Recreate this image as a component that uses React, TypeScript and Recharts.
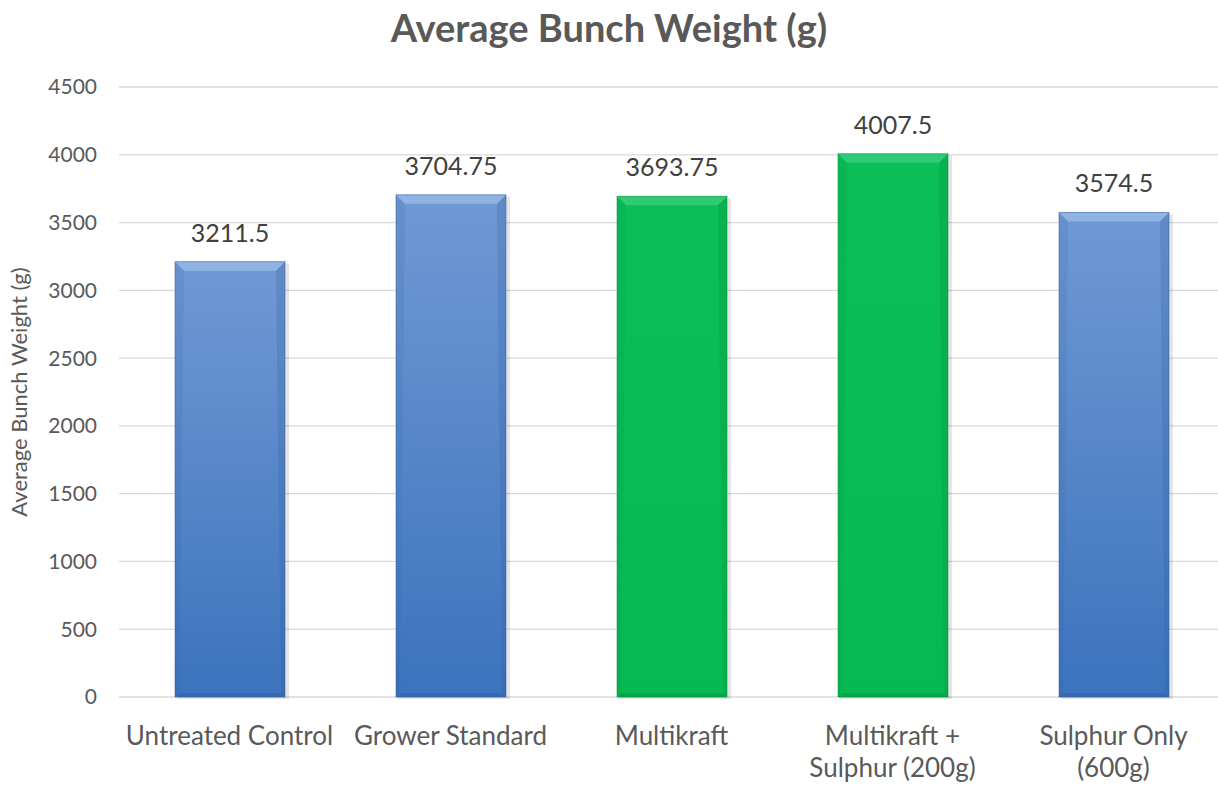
import React from 'react';
import { BarChart, Bar, XAxis, YAxis, CartesianGrid, LabelList } from 'recharts';

const categories = [
  'Untreated Control',
  'Grower Standard',
  'Multikraft',
  'Multikraft + Sulphur (200g)',
  'Sulphur Only (600g)',
];
const bunchWeight = [3211.5, 3704.75, 3693.75, 4007.5, 3574.5];
const yTicks = [0, 500, 1000, 1500, 2000, 2500, 3000, 3500, 4000, 4500];
// treatments highlighted in green
const highlighted = ['Multikraft', 'Multikraft + Sulphur (200g)'];
// how the long category labels break onto two lines
const labelLines: Record<string, string[]> = {
  'Multikraft + Sulphur (200g)': ['Multikraft +', 'Sulphur (200g)'],
  'Sulphur Only (600g)': ['Sulphur Only', '(600g)'],
};

const data = categories.map((name, i) => ({ name, value: bunchWeight[i] }));

const FONT = 'Lato, "Liberation Sans", sans-serif';

const BevelBar = (props: any) => {
  const { x, y, width, height, payload } = props;
  if (!height || height <= 0) return null;
  const green = highlighted.includes(payload.name);
  const b = 9;
  const fill = green ? 'url(#greenFill)' : 'url(#blueFill)';
  const light = green ? '#3fd083' : '#9dbfea';
  const dark = green ? '#06873c' : '#2d5a98';
  return (
    <g>
      <rect x={x + 2} y={y + 2} width={width + 2} height={height} fill="#000" opacity={0.1} />
      <rect x={x} y={y} width={width} height={height} fill={fill} />
      <polygon
        points={`${x},${y} ${x + width},${y} ${x + width - b},${y + b} ${x + b},${y + b}`}
        fill={light}
        opacity={0.7}
      />
      <polygon
        points={`${x + width},${y} ${x + width},${y + height} ${x + width - 4},${y + height - 4} ${x + width - b},${y + b}`}
        fill={dark}
        opacity={0.22}
      />
      <polygon
        points={`${x},${y} ${x + b},${y + b} ${x + 4},${y + height - 4} ${x},${y + height}`}
        fill={dark}
        opacity={0.12}
      />
      <polygon
        points={`${x},${y + height} ${x + 4},${y + height - 4} ${x + width - 4},${y + height - 4} ${x + width},${y + height}`}
        fill={dark}
        opacity={0.35}
      />
      <rect x={x} y={y} width={width} height={height} fill="none" stroke={dark} strokeOpacity={0.5} strokeWidth={1} />
    </g>
  );
};

const CategoryTick = (props: any) => {
  const { x, y, payload } = props;
  const lines = labelLines[payload.value] || [payload.value];
  return (
    <text x={x} y={y} textAnchor="middle" fill="#595959" fontSize={26} fontFamily={FONT}>
      {lines.map((line, i) => (
        <tspan key={i} x={x} dy={i === 0 ? 40 : 32}>
          {line}
        </tspan>
      ))}
    </text>
  );
};

const AxisTitle = (props: any) => {
  const { viewBox } = props;
  const cx = 27;
  const cy = viewBox.y + viewBox.height / 2;
  return (
    <text
      x={cx}
      y={cy}
      transform={`rotate(-90, ${cx}, ${cy})`}
      textAnchor="middle"
      fill="#595959"
      fontSize={22}
      fontFamily={FONT}
    >
      Average Bunch Weight (g)
    </text>
  );
};

export default function App() {
  return (
    <div
      style={{
        position: 'absolute',
        left: 0,
        top: 0,
        width: 1218,
        height: 787,
        overflow: 'hidden',
        background: '#fff',
        fontFamily: FONT,
      }}
    >
      <div
        style={{
          position: 'absolute',
          top: 4,
          width: 1218,
          textAlign: 'center',
          fontSize: 38,
          fontWeight: 700,
          color: '#595959',
        }}
      >
        Average Bunch Weight (g)
      </div>
      <BarChart
        width={1230}
        height={787}
        data={data}
        margin={{ top: 87, right: 6, left: 0, bottom: 0 }}
        barSize={110}
      >
        <defs>
          <linearGradient id="blueFill" x1="0" y1="0" x2="0" y2="1">
            <stop offset="0%" stopColor="#7099d5" />
            <stop offset="100%" stopColor="#3c73bd" />
          </linearGradient>
          <linearGradient id="greenFill" x1="0" y1="0" x2="0" y2="1">
            <stop offset="0%" stopColor="#0bbe58" />
            <stop offset="100%" stopColor="#07b953" />
          </linearGradient>
        </defs>
        <CartesianGrid vertical={false} stroke="#d9d9d9" strokeWidth={1.3} />
        <XAxis
          dataKey="name"
          axisLine={false}
          tickLine={false}
          height={90}
          interval={0}
          tick={<CategoryTick />}
        />
        <YAxis
          domain={[0, 4500]}
          ticks={yTicks}
          width={119}
          axisLine={false}
          tickLine={false}
          tickSize={0}
          tickMargin={22}
          tick={{ fill: '#595959', fontSize: 21, fontFamily: FONT }}
          label={{ content: <AxisTitle /> }}
        />
        <Bar dataKey="value" shape={<BevelBar />} isAnimationActive={false}>
          <LabelList
            dataKey="value"
            position="top"
            offset={20}
            fill="#404040"
            fontSize={25}
            fontFamily={FONT}
          />
        </Bar>
      </BarChart>
    </div>
  );
}
